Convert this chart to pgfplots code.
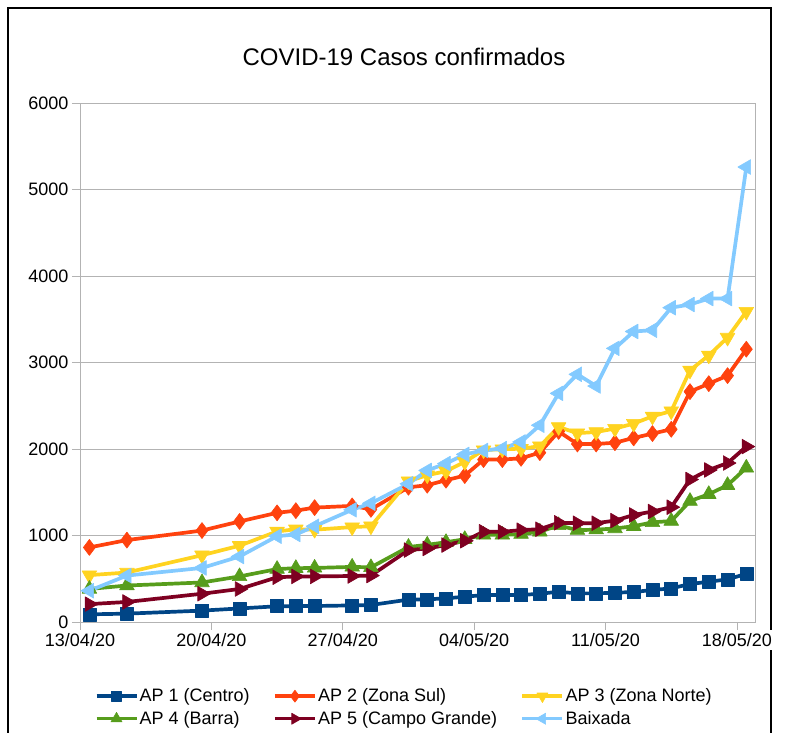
\documentclass[border=0pt]{standalone}
\usepackage{fontspec}
\setmainfont{Liberation Sans}
\usepackage{pgfplots}
\usepackage{pgfplotstable}
\pgfplotsset{compat=1.18}
\definecolor{c1}{HTML}{004586}
\definecolor{c2}{HTML}{FF420E}
\definecolor{c3}{HTML}{FFD320}
\definecolor{c4}{HTML}{579D1C}
\definecolor{c5}{HTML}{7E0021}
\definecolor{c6}{HTML}{83CAFF}
\definecolor{gridc}{HTML}{B3B3B3}
\pgfplotstableread{
d  a1  a2   a3   a4   a5   bx
0  92  865  545  385  210  365
2  100 950  575  425  235  540
6  135 1060 775  460  330  628
8  160 1165 885  530  385  760
10 185 1265 1050 615  520  995
11 187 1290 1075 625  530  1015
12 188 1325 1070 628  530  1110
14 195 1345 1100 640  535  1300
15 200 1305 1110 635  540  1375
17 262 1560 1630 870  834  1600
18 265 1584 1700 895  853  1755
19 277 1642 1745 925  892  1834
20 295 1695 1853 960  942  1940
21 315 1880 1990 1010 1046 1985
22 315 1880 2000 1010 1046 2007
23 315 1895 2005 1019 1065 2084
24 330 1960 2035 1046 1076 2277
25 353 2205 2257 1120 1150 2645
26 334 2060 2185 1065 1145 2865
27 334 2060 2199 1070 1145 2730
28 342 2075 2238 1084 1175 3165
29 350 2130 2296 1110 1240 3360
30 373 2180 2380 1155 1280 3375
31 392 2230 2440 1170 1330 3635
32 442 2665 2911 1400 1650 3672
33 469 2757 3084 1480 1760 3740
34 496 2850 3290 1584 1840 3740
35 560 3155 3590 1785 2030 5260
}\datatab
\begin{document}
\begin{tikzpicture}[x=1pt,y=1pt]
\useasboundingbox (0,0) rectangle (787,733);
\draw[line width=1.5pt] (8,0) -- (8,725) -- (771,725) -- (771,0);
\node[font=\fontsize{24}{28}\selectfont] at (404,676) {COVID-19 Casos confirmados};
\begin{axis}[
  at={(80pt,110.7pt)}, anchor=south west,
  scale only axis, width=675.7pt, height=519.3pt,
  xmin=0, xmax=36, ymin=0, ymax=6000,
  xtick={0,7,14,21,28,35},
  xticklabels={13/04/20,20/04/20,27/04/20,04/05/20,11/05/20,18/05/20},
  ytick={0,1000,2000,3000,4000,5000,6000},
  ymajorgrids, grid style={color=gridc, line width=0.8pt},
  axis line style={gridc, line width=0.8pt},
  tick style={gridc, line width=0.8pt},
  tick align=outside, major tick length=8pt,
  tick pos=left,
  ticklabel style={font=\fontsize{18}{22}\selectfont, text=black},
  xticklabel style={fill=white, inner xsep=1pt},
  /pgf/number format/assume math mode=true,
  /pgf/number format/1000 sep={},
  clip=false,
  legend columns=3,
  legend style={at={(0.4795,-0.1640)}, anchor=center, draw=none, fill=none,
    font=\fontsize{18}{22}\selectfont, cells={anchor=west},
    nodes={inner xsep=1.5pt, inner ysep=2pt},
    /tikz/row sep=4pt,
    /tikz/every even column/.append style={column sep=22pt}},
  legend image code/.code={\draw[mark repeat=2,mark phase=2,line width=3.4pt,/tikz/every mark/.append style={scale=0.75}] plot coordinates {(0pt,0pt) (20pt,0pt) (40pt,0pt)};},
  every axis plot/.append style={line width=3.7pt, line join=round},
]
\addplot[color=c1, mark=square*, mark size=6.5pt, mark options={line width=0.6pt}] table[x expr=\thisrow{d}+0.5, y=a1] {\datatab};
\addlegendentry{AP 1 (Centro)}
\addplot[color=c2, mark=diamond*, mark size=8pt, mark options={line width=0.6pt}] table[x expr=\thisrow{d}+0.5, y=a2] {\datatab};
\addlegendentry{AP 2 (Zona Sul)}
\addplot[color=c3, mark=triangle*, mark size=8.5pt, mark options={line width=0.6pt, rotate=180}] table[x expr=\thisrow{d}+0.5, y=a3] {\datatab};
\addlegendentry{AP 3 (Zona Norte)}
\addplot[color=c4, mark=triangle*, mark size=8.5pt, mark options={line width=0.6pt}] table[x expr=\thisrow{d}+0.5, y=a4] {\datatab};
\addlegendentry{AP 4 (Barra)}
\addplot[color=c5, mark=triangle*, mark size=8.5pt, mark options={line width=0.6pt, rotate=-90}] table[x expr=\thisrow{d}+0.5, y=a5] {\datatab};
\addlegendentry{AP 5 (Campo Grande)}
\addplot[color=c6, mark=triangle*, mark size=8.5pt, mark options={line width=0.6pt, rotate=90}] table[x expr=\thisrow{d}+0.5, y=bx] {\datatab};
\addlegendentry{Baixada}
\end{axis}
\end{tikzpicture}
\end{document}
